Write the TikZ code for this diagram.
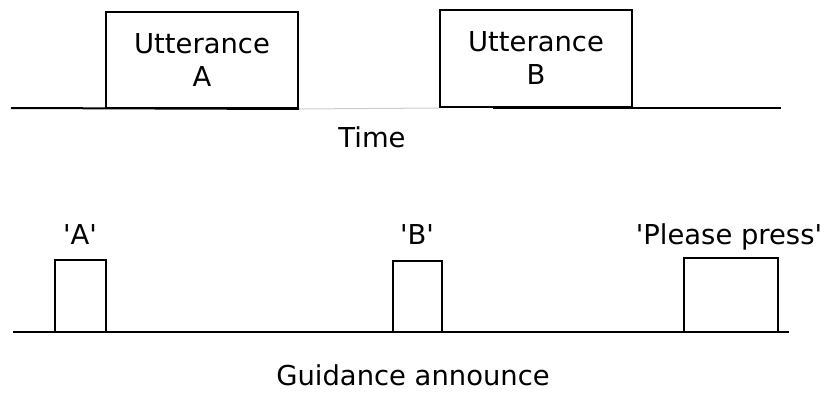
\documentclass[tikz,border=0pt]{standalone}
\usepackage{fontspec}
\setmainfont{DejaVu Sans}
\usetikzlibrary{positioning}
\newcommand{\sq}{\textquotesingle}
\tikzset{
  sig/.style ={draw=black,line width=1pt},
  utt/.style ={rectangle,draw=black,line width=1pt,align=center,
               minimum width=96pt,minimum height=48pt,inner sep=0pt},
  ann/.style ={rectangle,draw=black,line width=1pt,inner sep=0pt,
               minimum height=36pt},
  lbl/.style ={anchor=base,inner sep=0pt},
}

\begin{document}
\begin{tikzpicture}[x=0.5pt,y=-0.5pt,font=\fontsize{13.7}{16.5}\selectfont]
  \useasboundingbox (0,0) rectangle (826,396);

  % ---- utterances on the time axis ----
  \node[utt] (uA) at (202,60) {Utterance\\A};
  \node[utt,minimum height=48.5pt] (uB) at (536,58.5) {Utterance\\B};
  \coordinate (t0) at (11,108);
  \coordinate (t1) at (493,108);
  \coordinate (t2) at (781,108);
  \draw[sig] (t0) -- (uA.south east);
  \draw[gray!40,line width=0.5pt] (uA.south east) -- (uB.south west);
  \draw[sig] (t1) -- (t2);
  \node[lbl] (time) at (372,148) {Time};

  % ---- guidance announcements ----
  \node[ann,minimum width=25.5pt] (gA) at (80.5,296) {};
  \node[ann,minimum width=24.5pt,minimum height=35.5pt] (gB) at (417.5,296.5) {};
  \node[ann,minimum width=47pt,minimum height=37pt] (gP) at (731,295) {};
  \coordinate (g0) at (13,332);
  \coordinate (g1) at (789,332);
  \draw[sig] (g0) -- (g1);
  \node[lbl] (lA) at (80,244) {\sq A\sq};
  \node[lbl] (lB) at (417,244) {\sq B\sq};
  \node[lbl] (lP) at (729,244) {\sq Please press\sq};
  \node[lbl] (guide) at (413,385) {Guidance announce};
\end{tikzpicture}
\end{document}
